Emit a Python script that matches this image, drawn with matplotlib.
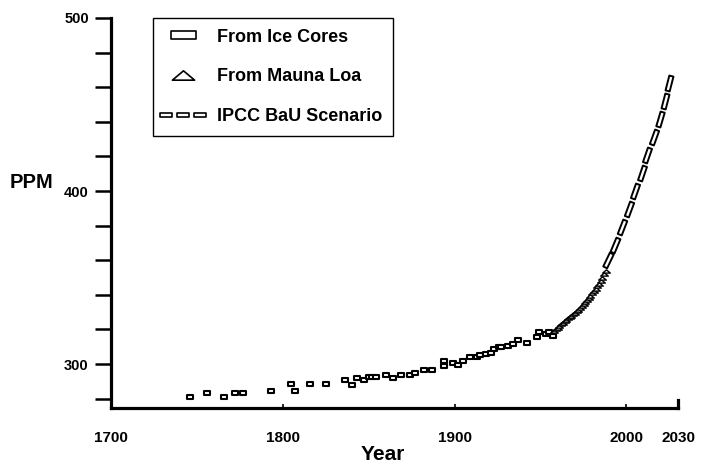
import numpy as np
import matplotlib
matplotlib.use("Agg")
import matplotlib.pyplot as plt
from matplotlib.lines import Line2D
from matplotlib.markers import MarkerStyle
from matplotlib.path import Path
from matplotlib.transforms import Affine2D
from matplotlib.legend_handler import HandlerLine2D

plt.rcParams['font.family'] = ['Liberation Sans', 'DejaVu Sans']
plt.rcParams['font.weight'] = 'bold'

# ice core samples (year, ppm)
ice_year = [1746, 1756, 1766, 1772, 1777, 1793, 1805, 1807, 1816, 1825,
            1836, 1840, 1843, 1847, 1850, 1852, 1854, 1860, 1864, 1869,
            1874, 1877, 1882, 1887, 1894, 1894, 1899, 1902, 1905, 1909,
            1913, 1915, 1918, 1921, 1923, 1926, 1927, 1931, 1934, 1937,
            1942, 1948, 1949, 1953, 1955, 1957]
ice_ppm = [281.1, 283.4, 281.1, 283.4, 283.4, 284.4, 288.3, 284.6, 288.3, 288.3,
           290.8, 287.7, 291.9, 290.8, 292.5, 292.5, 292.5, 293.8, 292.1, 293.6,
           293.6, 295.0, 296.7, 296.7, 301.6, 298.7, 300.4, 299.2, 301.6, 303.9,
           304.2, 305.2, 305.8, 306.2, 308.7, 310.0, 310.0, 310.6, 311.4, 313.9,
           312.3, 315.4, 318.7, 317.3, 318.7, 316.2]

# Mauna Loa annual means
ml_year = list(range(1958, 1989))
ml_ppm = [319.0, 320.0, 321.0, 322.0, 323.2, 324.0, 324.8, 325.6, 326.4, 327.2,
          328.0, 328.8, 329.6, 330.5, 331.5, 332.5, 333.5, 334.5, 335.7, 336.9,
          338.2, 339.5, 340.8, 342.2, 343.6, 345.0, 346.4, 348.0, 349.8, 351.8,
          354.0]

# IPCC business-as-usual projection
ipcc_year = [1989.2, 1993.4, 1997.3, 2001.5, 2005.0, 2008.8, 2012.0, 2016.0,
             2019.5, 2022.3, 2024.9]
ipcc_ppm = [360.1, 368.8, 379.4, 389.6, 400.2, 410.2, 420.8, 431.0,
            441.4, 452.2, 462.3]

x_ticks = [1700, 1800, 1900, 2000, 2030]
y_major = [300, 400, 500]
y_minor = [280, 320, 340, 360, 380, 420, 440, 460, 480]

fig = plt.figure(figsize=(7.01, 4.72), dpi=100)
ax = fig.add_axes([0.1583, 0.1356, 0.8089, 0.8263])
ax.set_xlim(1700.5, 2029.5)
ax.set_ylim(274.6, 500)


def rect(w, h):
    return Path([(-w, -h), (w, -h), (w, h), (-w, h), (-w, -h)],
                [Path.MOVETO, Path.LINETO, Path.LINETO, Path.LINETO, Path.CLOSEPOLY])


flat_tri = Path([(-1, -0.42), (1, -0.42), (0, 0.42), (-1, -0.42)],
                [Path.MOVETO, Path.LINETO, Path.LINETO, Path.CLOSEPOLY])

ax.plot(ice_year, ice_ppm, ls='none', marker=rect(1, 0.5), ms=4.6,
        mfc='white', mec='black', mew=1.5)
ax.plot(ml_year, ml_ppm, ls='none', marker=flat_tri, ms=5.5,
        mfc='white', mec='black', mew=1.0)

# dashes follow the direction of the curve
pts = ax.transData.transform(np.column_stack([ipcc_year, ipcc_ppm]))
ang = np.degrees(np.arctan2(np.gradient(pts[:, 1]), np.gradient(pts[:, 0])))
for xx, yy, a in zip(ipcc_year, ipcc_ppm, ang):
    m = MarkerStyle(rect(1, 0.28), transform=Affine2D().rotate_deg(a))
    ax.plot([xx], [yy], ls='none', marker=m, ms=11,
            mfc='white', mec='black', mew=1.4)

# axes look
ax.spines['top'].set_visible(False)
for s in ['left', 'bottom', 'right']:
    ax.spines[s].set_linewidth(2.3)
ax.spines['right'].set_bounds(274.6, 279.5)

ax.set_yticks(y_major)
ax.set_yticks(y_minor, minor=True)
ax.tick_params(axis='y', which='both', direction='out', length=11.5, width=1.8,
               pad=4.5, labelsize=10.5)
ax.set_xticks(x_ticks)
ax.tick_params(axis='x', direction='in', length=3, width=1.2, pad=16.5,
               labelsize=11)
ax.tick_params(axis='y', which='minor', labelleft=False)

ax.set_ylabel('PPM', fontsize=14.5, fontweight='bold', rotation=0, va='center', ha='center')
ax.yaxis.set_label_coords(-0.141, 0.579)
ax.set_xlabel('Year', fontsize=15, fontweight='bold', va='center')
ax.xaxis.set_label_coords(0.48, -0.12)

h_ice = Line2D([], [], ls='none', marker=rect(1, 0.33), ms=18,
               mfc='white', mec='black', mew=1.2)
h_ml = Line2D([], [], ls='none', marker=flat_tri, ms=16,
              mfc='white', mec='black', mew=1.2)
h_ipcc = Line2D([], [], ls='none', marker=rect(1, 0.38), ms=8.5,
                mfc='white', mec='black', mew=1.2)
leg = ax.legend([h_ice, h_ml, h_ipcc],
                ['From Ice Cores', 'From Mauna Loa', 'IPCC BaU Scenario'],
                handler_map={h_ipcc: HandlerLine2D(numpoints=3, marker_pad=0.1)},
                numpoints=1, loc='upper left', bbox_to_anchor=(0.074, 1.0),
                borderaxespad=0, fancybox=False, framealpha=1, edgecolor='black',
                handlelength=2.1, handletextpad=0.85, borderpad=0.6,
                labelspacing=1.25, prop={'size': 13.0, 'weight': 'bold'})
leg.get_frame().set_linewidth(1.0)

fig.savefig('out.png', dpi=100)
